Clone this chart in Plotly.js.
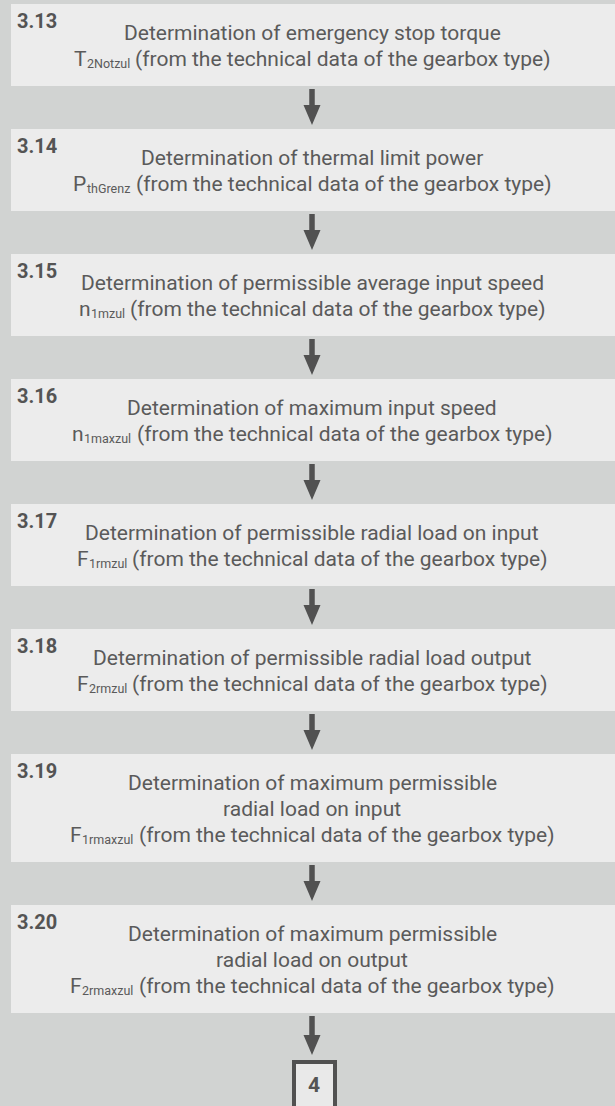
<!DOCTYPE html>
<html>
<head>
<meta charset="utf-8">
<script src="https://cdn.plot.ly/plotly-3.0.1.min.js"></script>
<style>
  html, body { margin: 0; padding: 0; background: #d1d3d2; }
  #chart { width: 615px; height: 1106px; }
</style>
</head>
<body>
<div id="chart"></div>
<script>
// ---- data ----
const stepIds = ['3.13', '3.14', '3.15', '3.16', '3.17', '3.18', '3.19', '3.20'];
const stepTitles = [
  ['Determination of emergency stop torque'],
  ['Determination of thermal limit power'],
  ['Determination of permissible average input speed'],
  ['Determination of maximum input speed'],
  ['Determination of permissible radial load on input'],
  ['Determination of permissible radial load output'],
  ['Determination of maximum permissible', 'radial load on input'],
  ['Determination of maximum permissible', 'radial load on output']
];
const symbolBase = ['T', 'P', 'n', 'n', 'F', 'F', 'F', 'F'];
const symbolSub = ['2Notzul', 'thGrenz', '1mzul', '1maxzul', '1rmzul', '2rmzul', '1rmaxzul', '2rmaxzul'];
const sourceText = '(from the technical data of the gearbox type)';
const nextChapter = '4';

// ---- style / layout constants ----
const W = 615, H = 1106;
const BG = '#d1d3d2', BOX = '#ececec', TXT = '#5a5a5a', DARK = '#515151';
const FONT = 'Roboto, "Noto Sans", sans-serif';
const S = 21, SUB = 12.5, LABEL = 20;
const boxLeft = 11, cx = 312;
const lineH = 26, gap = 43;

const ctx = document.createElement('canvas').getContext('2d');
function tw(text, size) {
  ctx.font = size + 'px ' + FONT;
  return ctx.measureText(text).width;
}

const shapes = [];
const annotations = [];

function txt(x, y, text, size, xanchor, color) {
  annotations.push({
    x: x, y: y, xref: 'x', yref: 'y', xanchor: xanchor, yanchor: 'middle',
    text: text, showarrow: false, borderpad: 0, borderwidth: 0,
    font: { family: FONT, size: size, color: color || TXT }
  });
}

function arrow(y0, tip) {
  const headH = 20, headW = 17, shaftW = 5.5;
  shapes.push({
    type: 'path', xref: 'x', yref: 'y',
    path: `M ${cx - shaftW / 2} ${y0} L ${cx + shaftW / 2} ${y0} L ${cx + shaftW / 2} ${tip - headH} ` +
          `L ${cx + headW / 2} ${tip - headH} L ${cx} ${tip} L ${cx - headW / 2} ${tip - headH} ` +
          `L ${cx - shaftW / 2} ${tip - headH} Z`,
    fillcolor: DARK, line: { width: 0 }
  });
}

let curTop = 4;
stepIds.forEach((id, i) => {
  const titles = stepTitles[i];
  const nLines = titles.length + 1;
  const h = 30 + lineH * nLines;
  shapes.push({
    type: 'rect', xref: 'x', yref: 'y', x0: boxLeft, x1: W + 5, y0: curTop, y1: curTop + h,
    fillcolor: BOX, line: { width: 0 }, layer: 'below'
  });
  txt(17, curTop + 17, '<b>' + id + '</b>', LABEL, 'left', '#545454');
  titles.forEach((t, k) => txt(cx, curTop + 29 + lineH * k, t, S, 'center'));

  // symbol line: base + subscript + source text, laid out side by side
  const yc = curTop + 29 + lineH * titles.length;
  const wBase = tw(symbolBase[i], S);
  const wSub = tw(symbolSub[i], SUB);
  const wSpace = tw(' ', S);
  const wRest = tw(sourceText, S);
  let x = cx - (wBase + wSub + wSpace + wRest) / 2;
  txt(x, yc, symbolBase[i], S, 'left');
  x += wBase + 0.5;
  txt(x, yc + 0.34 * (S - SUB) + 1.5, symbolSub[i], SUB, 'left');
  x += wSub + wSpace;
  txt(x, yc, sourceText, S, 'left');

  const bottom = curTop + h;
  const last = i === stepIds.length - 1;
  const nextTop = bottom + (last ? 47 : gap);
  arrow(bottom + 3, nextTop - (last ? 5 : 4));
  curTop = nextTop;
});

// final chapter box
shapes.push({
  type: 'rect', xref: 'x', yref: 'y', x0: 294, x1: 335, y0: curTop + 2, y1: H + 10,
  fillcolor: '#e9e9e9', line: { color: DARK, width: 4 }
});
txt(314, curTop + 25, '<b>' + nextChapter + '</b>', 21, 'center', '#545454');

const layout = {
  width: W, height: H,
  margin: { l: 0, r: 0, t: 0, b: 0, pad: 0 },
  paper_bgcolor: BG, plot_bgcolor: BG,
  xaxis: { range: [0, W], visible: false, fixedrange: true },
  yaxis: { range: [H, 0], visible: false, fixedrange: true },
  showlegend: false,
  shapes: shapes,
  annotations: annotations
};

Plotly.newPlot('chart', [], layout, { staticPlot: true, displayModeBar: false });
</script>
</body>
</html>
